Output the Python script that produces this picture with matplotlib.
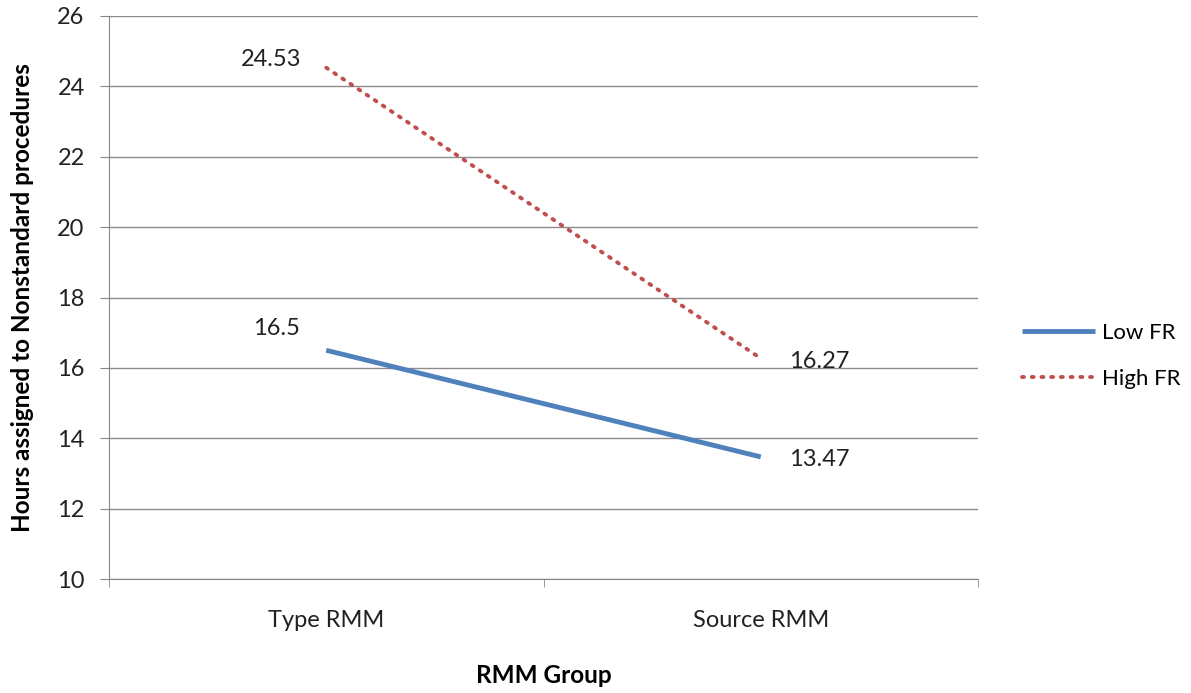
import matplotlib.pyplot as plt

categories = ["Type RMM", "Source RMM"]
low_fr = [16.5, 13.47]
high_fr = [24.53, 16.27]
y_ticks = [10, 12, 14, 16, 18, 20, 22, 24, 26]

plt.rcParams["font.family"] = ["Lato", "DejaVu Sans"]

fig = plt.figure(figsize=(11.91, 6.93), dpi=100)
ax = fig.add_axes([109 / 1191, 1 - 579 / 693, (978 - 109) / 1191, (579 - 16) / 693])

x = [0.5, 1.5]
ln_low, = ax.plot(x, low_fr, color="#4F81BD", linewidth=3.5, solid_capstyle="butt", label="Low FR")
ln_high, = ax.plot(x, high_fr, color="#C0504D", linewidth=2.8, linestyle=(0, (0.5, 2.0)),
                   dash_capstyle="round", label="High FR")

ax.set_xlim(0, 2)
ax.set_ylim(10, 26)
ax.set_yticks(y_ticks)
ax.set_xticks([0, 1, 2], minor=True)
ax.set_xticks(x)
ax.set_xticklabels(categories)
ax.tick_params(axis="x", which="major", length=0, pad=22, labelsize=17, colors="#222222")
ax.tick_params(axis="x", which="minor", length=6, color="#888888", direction="out")
ax.tick_params(axis="y", length=6.5, color="#888888", labelsize=17, pad=11, labelcolor="#222222")
ax.grid(axis="y", color="#8c8c8c", linewidth=1.0)
ax.set_axisbelow(True)
for s in ["top", "right"]:
    ax.spines[s].set_visible(False)
ax.spines["left"].set_color("#888888")
ax.spines["bottom"].set_color("#888888")

# data labels
lbl = dict(textcoords="offset points", ha="center", va="center", fontsize=17, color="#222222")
ax.annotate(f"{high_fr[0]:.2f}", (x[0], high_fr[0]), xytext=(-40, 6), **lbl)
ax.annotate(f"{low_fr[0]:g}", (x[0], low_fr[0]), xytext=(-36, 16), **lbl)
ax.annotate(f"{high_fr[1]:.2f}", (x[1], high_fr[1]), xytext=(42, -2), **lbl)
ax.annotate(f"{low_fr[1]:.2f}", (x[1], low_fr[1]), xytext=(42, -2), **lbl)

ax.set_ylabel("Hours assigned to Nonstandard procedures", fontsize=17.5, fontweight="bold")
ax.yaxis.set_label_coords(-(109 - 34) / 869, 0.5)
ax.set_xlabel("RMM Group", fontsize=17.5, fontweight="bold")
ax.xaxis.set_label_coords(0.5, -(664 - 579) / 563)

fig.legend(handles=[ln_low, ln_high], loc="center left", bbox_to_anchor=(1002 / 1191, 1 - 356 / 693),
           frameon=False, fontsize=16, handlelength=3.3, labelspacing=1.15, handletextpad=0.3)

fig.savefig("out.png", dpi=100)
